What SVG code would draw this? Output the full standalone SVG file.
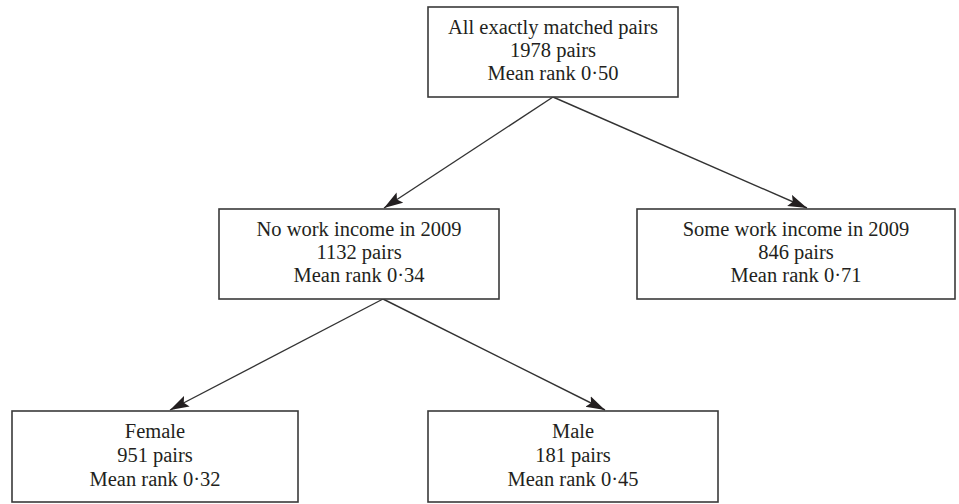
<svg xmlns="http://www.w3.org/2000/svg" width="959" height="504" viewBox="0 0 959 504">
<style>
  .box { fill: #ffffff; stroke: #3a3a3a; stroke-width: 1.6; }
  .t { font-family: "Liberation Serif", "Times New Roman", serif; font-size: 20.5px; fill: #231f20; text-anchor: middle; }
  .edge { stroke: #333333; stroke-width: 1.4; fill: none; marker-end: url(#arr); }
</style>
<defs>
  <marker id="arr" markerWidth="20" markerHeight="13" refX="19" refY="6.5" orient="auto" markerUnits="userSpaceOnUse">
    <path d="M0,0.5 L19,6.5 L0,12.5 L3.5,6.5 Z" fill="#231f20"/>
  </marker>
</defs>
<rect width="959" height="504" fill="#ffffff"/>
<g id="connectors">
  <line class="edge" x1="553" y1="97" x2="384" y2="208"/>
  <line class="edge" x1="553" y1="97" x2="807" y2="208"/>
  <line class="edge" x1="383" y1="299" x2="170" y2="410"/>
  <line class="edge" x1="383" y1="299" x2="605" y2="410"/>
</g>
<g id="root">
  <rect class="box" x="428" y="7" width="250" height="90"/>
  <text class="t" x="553" y="34">All exactly matched pairs</text>
  <text class="t" x="553" y="57">1978 pairs</text>
  <text class="t" x="553" y="80">Mean rank 0·50</text>
</g>
<g id="no-work">
  <rect class="box" x="219" y="209" width="280" height="90"/>
  <text class="t" x="359" y="236">No work income in 2009</text>
  <text class="t" x="359" y="259">1132 pairs</text>
  <text class="t" x="359" y="282">Mean rank 0·34</text>
</g>
<g id="some-work">
  <rect class="box" x="637" y="209" width="318" height="90"/>
  <text class="t" x="796" y="236">Some work income in 2009</text>
  <text class="t" x="796" y="259">846 pairs</text>
  <text class="t" x="796" y="282">Mean rank 0·71</text>
</g>
<g id="female">
  <rect class="box" x="12" y="411" width="286" height="91"/>
  <text class="t" x="155" y="438">Female</text>
  <text class="t" x="155" y="462">951 pairs</text>
  <text class="t" x="155" y="486">Mean rank 0·32</text>
</g>
<g id="male">
  <rect class="box" x="428" y="411" width="290" height="91"/>
  <text class="t" x="573" y="438">Male</text>
  <text class="t" x="573" y="462">181 pairs</text>
  <text class="t" x="573" y="486">Mean rank 0·45</text>
</g>
</svg>
